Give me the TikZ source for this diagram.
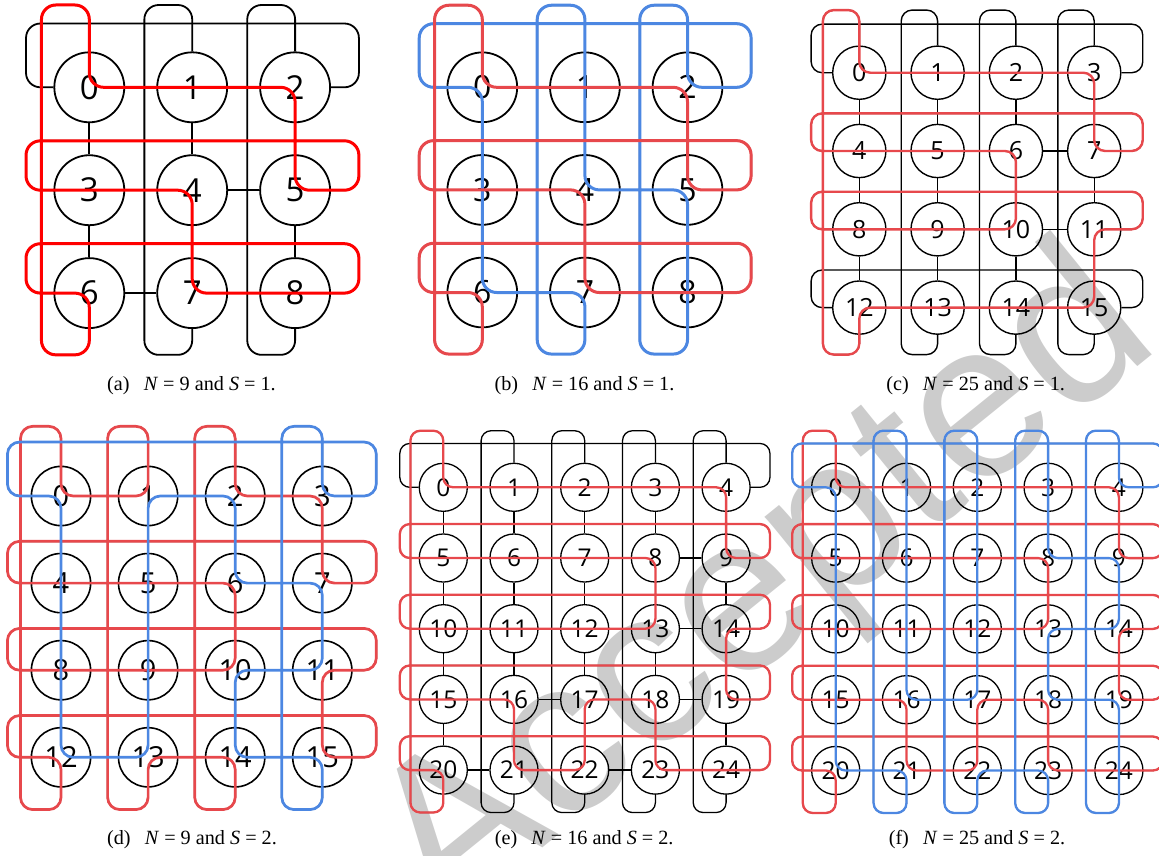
\documentclass[tikz,border=0pt]{standalone}
\usepackage{fontspec}
\newfontfamily\labfont{Open Sans}
\newfontfamily\wmfont{Liberation Sans}
\newfontfamily\capfont{Liberation Serif}
\definecolor{ringredA}{RGB}{255,0,0}
\definecolor{ringred}{RGB}{231,72,76}
\definecolor{ringblue}{RGB}{76,135,226}
\tikzset{
  ringline/.style={line width=#1, rounded corners=\tcr pt},
  captext/.style={font=\capfont\fontsize{20.2}{24}\selectfont, anchor=base, inner sep=0pt}
}
\newcommand\torusbase[5]{%
 \pgfmathtruncatemacro\tnm{#2-1}%
 \pgfmathtruncatemacro\tnmm{#2-2}%
 \pgfmathsetmacro\tcr{0.14*#3}%
 \pgfmathsetmacro\tns{0.68*#3}%
 \tikzset{nd/.style={circle,draw=black,line width=#5pt,minimum size=\tns pt,inner sep=0pt,font=\labfont\fontsize{#4}{#4}\selectfont},
   blk/.style={draw=black,line width=#5pt,rounded corners=\tcr pt}}%
 \foreach \j in {0,...,\tnm}{\foreach \i in {0,...,\tnm}{%
   \pgfmathtruncatemacro\k{\j*#2+\i}%
   \node[nd] (#1\k) at (\i,\j) {\k};}}%
 \foreach \j in {0,...,\tnm}{\foreach \i in {0,...,\tnmm}{%
   \pgfmathtruncatemacro\k{\j*#2+\i}%
   \pgfmathtruncatemacro\kk{\k+1}%
   \draw[blk] (#1\k) -- (#1\kk);}}%
 \foreach \j in {0,...,\tnmm}{\foreach \i in {0,...,\tnm}{%
   \pgfmathtruncatemacro\k{\j*#2+\i}%
   \pgfmathtruncatemacro\kk{\k+#2}%
   \draw[blk] (#1\k) -- (#1\kk);}}%
 \foreach \j in {0,...,\tnm}{%
   \pgfmathtruncatemacro\k{\j*#2}%
   \pgfmathtruncatemacro\kk{\k+#2-1}%
   \pgfmathsetmacro\trt{ifthenelse(\j==0,0.62,0.48)}%
   \draw[blk] (#1\k.west) -- (-0.615,\j) -- (-0.615,\j-\trt) -- (\tnm+0.62,\j-\trt) -- (\tnm+0.62,\j) -- (#1\kk.east);}%
 \foreach \i in {0,...,\tnm}{%
   \pgfmathtruncatemacro\kk{\tnm*#2+\i}%
   \draw[blk] (#1\i.north) -- (\i,-0.8) -- (\i-0.465,-0.8) -- (\i-0.465,\tnm+0.6) -- (\i,\tnm+0.6) -- (#1\kk.south);}%
}
\begin{document}
\begin{tikzpicture}[x=1pt,y=-1pt]
\useasboundingbox (0,0) rectangle (1159,855);
\node[font=\wmfont\fontsize{222}{222}\selectfont,text=gray!40,rotate=39] (wm) at (768,592) {Accepted};

% (a)
\begin{scope}[shift={(89.3,87.3)},x=102.9pt,y=-102.9pt]
\torusbase{a}{3}{102.9}{33}{1.8}
\draw[ringredA,ringline=3pt] (a1.center) -- (a0.center) -- (0,-0.8) -- (-0.465,-0.8) -- (-0.465,2.6) -- (0,2.6) -- (a6.center) -- (-0.615,2) -- (-0.615,1.52) -- (2.62,1.52) -- (2.62,2) -- (a8.center) -- (a7.center) -- (a4.center) -- (a3.center) -- (-0.615,1) -- (-0.615,0.52) -- (2.62,0.52) -- (2.62,1) -- (a5.center) -- (a2.center) -- (a1.center);
\end{scope}
\node[captext] (capa) at (191.5,390) {(a)\hspace{0.7em}\textit{N} = 9 and \textit{S} = 1.};

% (b)
\begin{scope}[shift={(482.3,87.3)},x=102.6pt,y=-102.6pt]
\torusbase{b}{3}{102.6}{32}{1.8}
\draw[ringblue,ringline=3pt] (b3.center) -- (b6.center) -- (b7.center) -- (1,2.6) -- (0.535,2.6) -- (0.535,-0.8) -- (1,-0.8) -- (b4.center) -- (b5.center) -- (2,2.6) -- (1.535,2.6) -- (1.535,-0.8) -- (2,-0.8) -- (b2.center) -- (2.62,0) -- (2.62,-0.62) -- (-0.615,-0.62) -- (-0.615,0) -- (b0.center) -- (b3.center);
\draw[ringred,ringline=3pt] (b1.center) -- (b0.center) -- (0,-0.8) -- (-0.465,-0.8) -- (-0.465,2.6) -- (0,2.6) -- (b6.center) -- (-0.615,2) -- (-0.615,1.52) -- (2.62,1.52) -- (2.62,2) -- (b8.center) -- (b7.center) -- (b4.center) -- (b3.center) -- (-0.615,1) -- (-0.615,0.52) -- (2.62,0.52) -- (2.62,1) -- (b5.center) -- (b2.center) -- (b1.center);
\end{scope}
\node[captext] (capb) at (584.5,390) {(b)\hspace{0.7em}\textit{N} = 16 and \textit{S} = 1.};

% (c)
\begin{scope}[shift={(859.3,72.7)},x=78.3pt,y=-78.3pt]
\torusbase{c}{4}{78.3}{25}{1.4}
\draw[ringred,ringline=2.4pt] (c1.center) -- (c0.center) -- (0,-0.8) -- (-0.465,-0.8) -- (-0.465,3.6) -- (0,3.6) -- (c12.center) -- (c15.center) -- (c11.center) -- (3.62,2) -- (3.62,1.52) -- (-0.615,1.52) -- (-0.615,2) -- (c10.center) -- (c6.center) -- (-0.615,1) -- (-0.615,0.52) -- (3.62,0.52) -- (3.62,1) -- (c7.center) -- (c3.center) -- (c1.center);
\end{scope}
\node[captext] (capc) at (975.7,390) {(c)\hspace{0.7em}\textit{N} = 25 and \textit{S} = 1.};

% (d)
\begin{scope}[shift={(61,496)},x=87.1pt,y=-87.1pt]
\torusbase{d}{4}{87.1}{29}{1.6}
\draw[ringred,ringline=2.7pt] (-0.465,1) -- (-0.465,-0.8) -- (0,-0.8) -- (d0.center) -- (d1.center) -- (1,-0.8) -- (0.535,-0.8) -- (0.535,3.6) -- (1,3.6) -- (d13.center) -- (d14.center) -- (2,3.6) -- (1.535,3.6) -- (1.535,-0.8) -- (2,-0.8) -- (d2.center) -- (d3.center) -- (d7.center) -- (3.62,1) -- (3.62,0.52) -- (-0.615,0.52) -- (-0.615,1) -- (d6.center) -- (d10.center) -- (-0.615,2) -- (-0.615,1.52) -- (3.62,1.52) -- (3.62,2) -- (d11.center) -- (d15.center) -- (3.62,3) -- (3.62,2.52) -- (-0.615,2.52) -- (-0.615,3) -- (d12.center) -- (0,3.6) -- (-0.465,3.6) -- (-0.465,1);
\draw[ringblue,ringline=2.7pt] (d4.center) -- (d12.center) -- (d13.center) -- (d1.center) -- (d2.center) -- (d6.center) -- (d7.center) -- (d11.center) -- (d10.center) -- (d14.center) -- (d15.center) -- (3,3.6) -- (2.535,3.6) -- (2.535,-0.8) -- (3,-0.8) -- (d3.center) -- (3.62,0) -- (3.62,-0.62) -- (-0.615,-0.62) -- (-0.615,0) -- (d0.center) -- (d4.center);
\end{scope}
\node[captext] (capd) at (192,844) {(d)\hspace{0.7em}\textit{N} = 9 and \textit{S} = 2.};

% (e)
\begin{scope}[shift={(443.3,487.3)},x=70.7pt,y=-70.7pt]
\torusbase{e}{5}{70.7}{24.5}{1.3}
\draw[ringred,ringline=2.3pt] (e2.center) -- (e4.center) -- (e9.center) -- (4.62,1) -- (4.62,0.52) -- (-0.615,0.52) -- (-0.615,1) -- (e8.center) -- (e13.center) -- (-0.615,2) -- (-0.615,1.52) -- (4.62,1.52) -- (4.62,2) -- (e14.center) -- (e19.center) -- (4.62,3) -- (4.62,2.52) -- (-0.615,2.52) -- (-0.615,3) -- (e16.center) -- (e21.center) -- (e22.center) -- (e17.center) -- (e18.center) -- (e23.center) -- (4.62,4) -- (4.62,3.52) -- (-0.615,3.52) -- (-0.615,4) -- (e20.center) -- (0,4.6) -- (-0.465,4.6) -- (-0.465,-0.8) -- (0,-0.8) -- (e0.center) -- (e2.center);
\end{scope}
\node[captext] (cape) at (584.2,844) {(e)\hspace{0.7em}\textit{N} = 16 and \textit{S} = 2.};

% (f)
\begin{scope}[shift={(835.7,487.3)},x=70.8pt,y=-70.8pt]
\torusbase{f}{5}{70.8}{24.5}{1.3}
\draw[ringred,ringline=2.3pt] (f2.center) -- (f4.center) -- (f9.center) -- (4.62,1) -- (4.62,0.52) -- (-0.615,0.52) -- (-0.615,1) -- (f8.center) -- (f13.center) -- (-0.615,2) -- (-0.615,1.52) -- (4.62,1.52) -- (4.62,2) -- (f14.center) -- (f19.center) -- (4.62,3) -- (4.62,2.52) -- (-0.615,2.52) -- (-0.615,3) -- (f16.center) -- (f21.center) -- (f22.center) -- (f17.center) -- (f18.center) -- (f23.center) -- (4.62,4) -- (4.62,3.52) -- (-0.615,3.52) -- (-0.615,4) -- (f20.center) -- (0,4.6) -- (-0.465,4.6) -- (-0.465,-0.8) -- (0,-0.8) -- (f0.center) -- (f2.center);
\draw[ringblue,ringline=2.3pt] (f5.center) -- (f20.center) -- (f21.center) -- (1,4.6) -- (0.535,4.6) -- (0.535,-0.8) -- (1,-0.8) -- (f16.center) -- (f17.center) -- (2,-0.8) -- (1.535,-0.8) -- (1.535,4.6) -- (2,4.6) -- (f22.center) -- (f23.center) -- (3,4.6) -- (2.535,4.6) -- (2.535,-0.8) -- (3,-0.8) -- (f8.center) -- (f9.center) -- (f14.center) -- (f13.center) -- (f18.center) -- (f19.center) -- (4,4.6) -- (3.535,4.6) -- (3.535,-0.8) -- (4,-0.8) -- (f4.center) -- (4.62,0) -- (4.62,-0.62) -- (-0.615,-0.62) -- (-0.615,0) -- (f0.center) -- (f5.center);
\end{scope}
\node[captext] (capf) at (977,844) {(f)\hspace{0.7em}\textit{N} = 25 and \textit{S} = 2.};
\end{tikzpicture}
\end{document}
